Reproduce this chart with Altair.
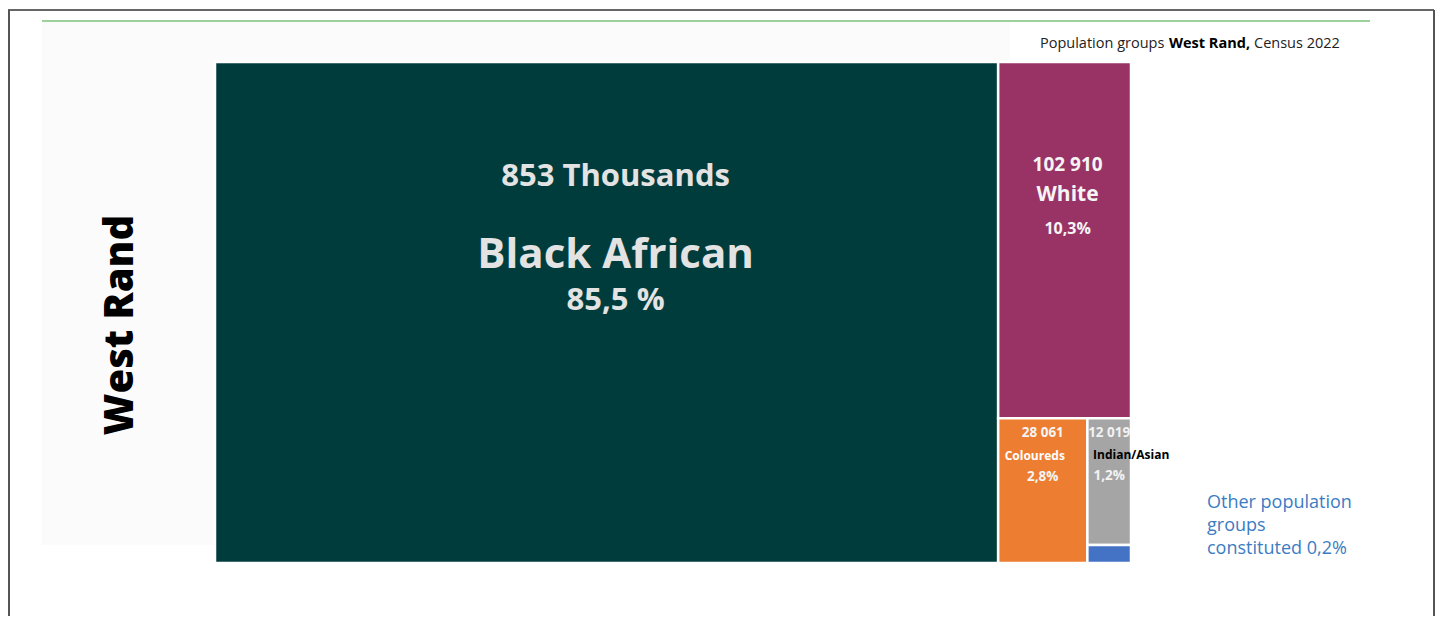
import altair as alt
import pandas as pd

# ---- data ----
groups = ["Black African", "White", "Coloureds", "Indian/Asian", "Other"]
population = [853000, 102910, 28061, 12019, 1700]
value_labels = ["853 Thousands", "102 910", "28 061", "12 019", ""]
pct_labels = ["85,5 %", "10,3%", "2,8%", "1,2%", ""]
name_labels = ["Black African", "White", "Coloureds", "Indian/Asian", ""]
colors = ["#013C3D", "#993366", "#ED7D31", "#A5A5A5", "#4472C4"]

FONT = "Open Sans"


def slice_layout(values):
    """Alternating slice layout in the unit square (treemap)."""
    x0, y0, x1, y1 = 0.0, 0.0, 1.0, 1.0
    rects = []
    remaining = float(sum(values))
    for i, v in enumerate(values):
        f = v / remaining
        if i == len(values) - 1:
            rects.append((x0, y0, x1, y1))
        elif i % 2 == 0:
            xm = x0 + f * (x1 - x0)
            rects.append((x0, y0, xm, y1))
            x0 = xm
        else:
            ym = y0 + f * (y1 - y0)
            rects.append((x0, y0, x1, ym))
            y0 = ym
        remaining -= v
    return rects


rects = slice_layout(population)
df = pd.DataFrame({
    "group": groups,
    "population": population,
    "x0": [r[0] for r in rects],
    "y0": [r[1] for r in rects],
    "x1": [r[2] for r in rects],
    "y1": [r[3] for r in rects],
    "value_label": value_labels,
    "pct_label": pct_labels,
    "name_label": name_labels,
})
df["xc"] = (df["x0"] + df["x1"]) / 2

W, H = 1427, 608
xs = alt.Scale(domain=[0, 1], range=[207, 1123])
ys = alt.Scale(domain=[0, 1], range=[54, 555])

base = alt.Chart(df)

tiles = base.mark_rect(stroke="white", strokeWidth=2.5).encode(
    x=alt.X("x0:Q", scale=xs, axis=None),
    x2="x1:Q",
    y=alt.Y("y0:Q", scale=ys, axis=None),
    y2="y1:Q",
    color=alt.Color("group:N", scale=alt.Scale(domain=groups, range=colors), legend=None),
    tooltip=["group:N", "population:Q"],
)

# label specs: (group, field, fontSize, color, dy, dx)
label_specs = [
    ("Black African", "value_label", 31, "#E3E3E3", 115, 9),
    ("Black African", "name_label", 42, "#E3E3E3", 193, 9),
    ("Black African", "pct_label", 31, "#E3E3E3", 239, 9),
    ("White", "value_label", 19, "#F5F5F5", 103, 3),
    ("White", "name_label", 21, "#F5F5F5", 133, 3),
    ("White", "pct_label", 16, "#F5F5F5", 167, 3),
    ("Coloureds", "value_label", 13.5, "#F5F5F5", 15, 0),
    ("Coloureds", "name_label", 12, "#FFFFFF", 38, -8),
    ("Coloureds", "pct_label", 13.5, "#F5F5F5", 59, 0),
    ("Indian/Asian", "value_label", 13.5, "#F2F2F2", 15, 0),
    ("Indian/Asian", "name_label", 12, "#000000", 37, 22),
    ("Indian/Asian", "pct_label", 13.5, "#F2F2F2", 58, 0),
]

labels = []
for g, field, fs, col, dy, dx in label_specs:
    labels.append(
        base.transform_filter(alt.datum.group == g)
        .mark_text(font=FONT, fontWeight="bold", fontSize=fs, color=col,
                   dy=dy, dx=dx, baseline="middle", align="center")
        .encode(
            x=alt.X("xc:Q", scale=xs),
            y=alt.Y("y0:Q", scale=ys),
            text=f"{field}:N",
        )
    )

dummy = pd.DataFrame({"k": [0]})
deco = alt.Chart(dummy)

panel = deco.mark_rect(fill="#FBFBFB").encode(
    x=alt.value(34), x2=alt.value(1002), y=alt.value(14), y2=alt.value(537))
green = deco.mark_rule(color="#7BC07B", strokeWidth=1.5).encode(
    x=alt.value(34), x2=alt.value(1362), y=alt.value(13))
frame_top = deco.mark_rule(color="#333333", strokeWidth=1.5).encode(
    x=alt.value(0), x2=alt.value(1426), y=alt.value(2))
frame_left = deco.mark_rule(color="#555555", strokeWidth=2).encode(
    x=alt.value(1), y=alt.value(2), y2=alt.value(H))
frame_right = deco.mark_rule(color="#555555", strokeWidth=2).encode(
    x=alt.value(1426), y=alt.value(2), y2=alt.value(H))

region_title = deco.mark_text(font=FONT, fontWeight=800, fontSize=40, angle=270,
                              color="#000000", align="center", baseline="middle").encode(
    x=alt.value(113), y=alt.value(317), text=alt.value("West Rand"))

sub1 = deco.mark_text(font=FONT, fontSize=14.5, color="#222222", align="left",
                      baseline="middle").encode(
    x=alt.value(1032), y=alt.value(36), text=alt.value("Population groups"))
sub2 = deco.mark_text(font=FONT, fontSize=14.5, fontWeight="bold", color="#000000",
                      align="left", baseline="middle").encode(
    x=alt.value(1161), y=alt.value(36), text=alt.value("West Rand,"))
sub3 = deco.mark_text(font=FONT, fontSize=14.5, color="#222222", align="left",
                      baseline="middle").encode(
    x=alt.value(1246), y=alt.value(36), text=alt.value("Census 2022"))

other_note = deco.mark_text(font=FONT, fontSize=18, color="#3B7CC2", align="left",
                            baseline="middle", lineHeight=23, lineBreak="\n").encode(
    x=alt.value(1199), y=alt.value(495),
    text=alt.value("Other population\ngroups\nconstituted 0,2%"))

chart = alt.layer(
    panel, green, frame_top, frame_left, frame_right,
    tiles, *labels,
    region_title, sub1, sub2, sub3, other_note,
).properties(
    width=W, height=H,
    autosize=alt.AutoSizeParams(type="none"),
    padding=0,
    background="white",
).configure_view(stroke=None)

chart.save("out.html", embed_options={"renderer": "svg", "actions": False})
